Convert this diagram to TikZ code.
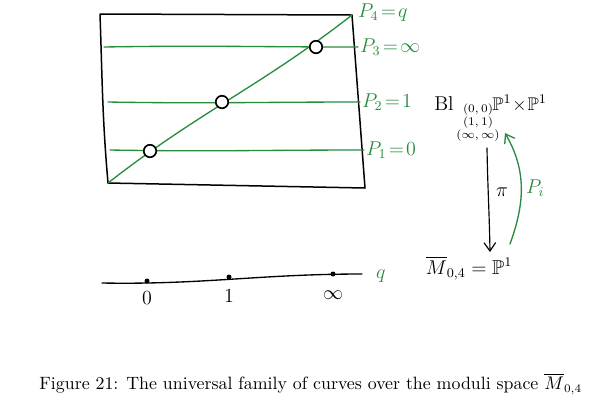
\documentclass[tikz,border=0pt]{standalone}
\usepackage{amsmath,amssymb}
\usetikzlibrary{arrows.meta}
\definecolor{pen}{RGB}{40,140,60}
\begin{document}
\begin{tikzpicture}[x=0.6pt,y=-0.6pt, line cap=round, line join=round,
  frame/.style={black, line width=0.9pt},
  fiber/.style={pen, line width=0.8pt},
  hole/.style={circle, draw=black, line width=1pt, fill=white, minimum size=7.5pt, inner sep=0pt},
  dotmark/.style={circle, fill=black, minimum size=3pt, inner sep=0pt},
  glab/.style={pen, anchor=west, font=\large, inner sep=1pt},
  blab/.style={black, font=\large, inner sep=1pt},
  ]
\useasboundingbox (0,0) rectangle (600,400);
% frame
\coordinate (tl) at (100,14);
\coordinate (tr) at (352,15);
\coordinate (br) at (365,188);
\coordinate (bl) at (108,183);
\draw[frame] (tl) -- (tr) -- (br) -- (bl) to[out=95,in=-88] (tl);
% labels of fibres
\node[glab] (p4) at (356,13) {$P_4\!=\!q$};
\node[glab] (p3) at (358,47) {$P_3\!=\!\infty$};
\node[glab] (p2) at (360,102) {$P_2\!=\!1$};
\node[glab] (p1) at (364,150) {$P_1\!=\!0$};
\coordinate (l3) at (104,47);
\coordinate (l2) at (108,102);
\coordinate (l1) at (110,150);
\draw[fiber] (l3) to[out=1,in=180] (p3.west);
\draw[fiber] (l2) to[out=-1,in=180] (p2.west);
\draw[fiber] (l1) to[out=-1,in=180] (p1.west);
\draw[fiber] (bl) to[out=38,in=-142] (tr);
% intersection holes
\node[hole] (h1) at (150,151) {};
\node[hole] (h2) at (222,102) {};
\node[hole] (h3) at (316,47) {};
% number line
\coordinate (na) at (102,283);
\coordinate (nb) at (362,274);
\draw[black, line width=0.8pt] (na) to[out=-1,in=180] (nb);
\node[dotmark] (d0) at (147,281) {};
\node[dotmark] (d1) at (229,277) {};
\node[dotmark] (d2) at (333,274) {};
\node[blab] (t0) at (147,298) {$0$};
\node[blab] (t1) at (229,296) {$1$};
\node[blab] (t2) at (333,295) {$\infty$};
\node[glab] (q) at (374,276) {$q$};
% right side
\node[black, font=\fontsize{11.5}{13}\selectfont, anchor=base west, inner sep=0pt] (blw) at (434,110) {$\mathrm{Bl}$};
\node[black, font=\fontsize{7.5}{6}\selectfont, align=center, anchor=north, inner sep=0pt] (subs) at (478,103)
  {$(0,0)$\\$(1,1)$\\$(\infty,\infty)$};
\node[black, font=\fontsize{11}{13}\selectfont, anchor=base west, inner sep=0pt] (pp) at (492,110) {$\mathbb{P}^1\!\times\!\mathbb{P}^1$};
\node[blab] (mbar) at (469,268) {$\overline{M}_{0,4}=\mathbb{P}^1$};
\coordinate (pi1) at (487,148);
\coordinate (pi2) at (490,252);
\draw[black, line width=0.7pt, -{Straight Barb[length=5pt,width=7pt]}] (pi1) to[out=-89,in=91] (pi2);
\node[blab] (pil) at (502,192) {$\pi$};
\coordinate (s1) at (510,244);
\coordinate (s2) at (505,133);
\draw[pen, line width=0.8pt, -{Straight Barb[length=5pt,width=7pt]}] (s1) to[out=70,in=-60] (s2);
\node[glab] (pl) at (524,188) {$P_i$};
% caption
\node[black, font=\fontsize{10.7}{13}\selectfont, anchor=west, inner sep=0pt] (cap) at (39,384)
  {Figure 21: The universal family of curves over the moduli space $\overline{M}_{0,4}$};
\end{tikzpicture}
\end{document}
